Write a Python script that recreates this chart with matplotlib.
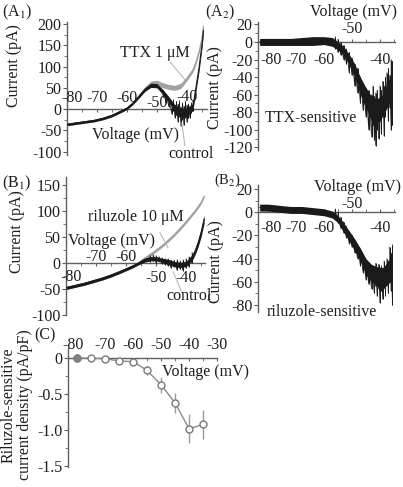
import numpy as np
import matplotlib
matplotlib.use('Agg')
import matplotlib.pyplot as plt

plt.rcParams['font.family'] = ['Liberation Serif', 'DejaVu Serif']
plt.rcParams['mathtext.fontset'] = 'stix'
plt.rcParams['font.size'] = 11

W, H = 403, 487
TXT = '#1e1e1e'
AXC = '#606060'
GRAY = '#a2a2a2'
BLACK = '#1a1a1a'
FS = 11.5

# ---- (A1) whole-cell ramp currents, control vs TTX 1 uM
a1_v = [-80, -77, -74, -71, -68, -65, -62, -60, -58, -56, -54, -52, -50,
        -48, -46, -44, -42, -40, -38, -37, -36, -35, -34.5]
a1_ctrl = [-36, -33, -30, -27, -22, -15, -5, 2, 14, 30, 46, 56, 55,
           40, 22, 2, -8, -8, 5, 50, 95, 150, 185]
a1_ctrl_hw = [3, 3, 3, 3, 3, 3, 3, 3, 3, 4, 4, 5, 5,
              6, 7, 8, 10, 10, 8, 8, 8, 8, 8]
a1_ttx = [-36, -33, -30, -27, -22, -15, -5, 2, 14, 31, 48, 60, 62,
          56, 52, 50, 55, 72, 92, 110, 135, 165, 195]
a1_ttx_hw = [3, 3, 3, 3, 3, 3, 3, 3, 3, 4, 5, 6, 6,
             6, 6, 6, 6, 5, 5, 5, 5, 5, 5]
# noise excursions of the control trace
a1_sv = [-48, -47, -46, -45, -44.5, -44, -43.5, -43, -42.5, -42, -41.5,
         -41, -40.5, -40, -39.5, -39, -38.5, -38]
a1_slo = [28, 15, 5, -12, -5, -20, -15, -30, -18, -40, -25, -38, -20,
          -30, -22, -20, -10, -5]
a1_shi = [45, 35, 25, 15, 22, 10, 18, 12, 20, 5, 15, 8, 18, 10, 12, 8, 15, 20]

# ---- (A2) TTX-sensitive current
a2_v = [-83, -80, -76, -72, -68, -64, -60, -57, -55, -53, -51, -49, -47,
        -45, -43, -41, -39, -37, -35.5]
a2_mid = [0, 0, 0, 0, 0, 1, 2, 0, -4, -10, -20, -32, -50,
          -62, -75, -78, -72, -58, -45]
a2_hi = [4, 4, 4, 4, 5, 6, 6, 5, 0, -5, -14, -25, -40,
         -52, -62, -65, -60, -45, -32]
a2_lo = [-4, -4, -4, -4, -4, -4, -3, -5, -9, -15, -26, -40, -60,
         -75, -90, -92, -85, -72, -60]
a2_sv = [-56, -55, -54, -53, -52, -51, -50, -49, -48, -47, -46, -45, -44,
         -43, -42.5, -42, -41.5, -41, -40.5, -40, -39.5, -39, -38.5, -38,
         -37.5, -37, -36.5, -36, -35.5]
a2_slo = [-8, -12, -15, -20, -25, -35, -38, -50, -58, -70, -78, -85, -100,
          -108, -95, -112, -118, -100, -110, -90, -105, -80, -107, -85,
          -70, -90, -75, -100, -95]
a2_shi = [6, 3, 0, -4, -8, -12, -18, -25, -30, -40, -48, -52, -55,
          -60, -50, -62, -58, -55, -65, -50, -55, -45, -50, -40,
          -35, -30, -38, -20, -22]

# ---- (B1) control vs riluzole 10 uM
b1_v = [-80, -77, -74, -71, -68, -65, -62, -60, -58, -56, -54, -52, -50,
        -48, -46, -44, -42, -40, -38, -37, -36, -35, -34]
b1_ctrl = [-48, -44, -40, -35, -30, -24, -17, -12, -7, -1, 5, 8, 8,
           5, 2, -2, -4, -2, 10, 22, 38, 58, 84]
b1_ctrl_hw = [3, 3, 3, 3, 3, 3, 3, 3, 3, 3, 4, 4, 4,
              4, 5, 5, 5, 5, 6, 6, 7, 8, 8]
b1_ril = [-48, -44, -40, -35, -30, -24, -17, -12, -7, -1, 8, 16, 24,
          33, 43, 54, 66, 79, 93, 100, 108, 116, 128]
b1_ril_hw = [3] * 23
b1_sv = [-52, -51, -50, -49, -48, -47, -46, -45, -44, -43, -42, -41, -40,
         -39, -38]
b1_slo = [2, 4, 0, 3, -2, -4, -6, -10, -8, -14, -12, -15, -10, -8, 0]
b1_shi = [14, 16, 14, 12, 10, 8, 8, 6, 5, 6, 4, 6, 8, 12, 20]

# ---- (B2) riluzole-sensitive current
b2_v = [-83, -80, -76, -72, -68, -64, -60, -57, -55, -53, -51, -49, -47,
        -45, -43, -41, -39, -37, -35.5]
b2_mid = [4, 4, 3, 2, 2, 1, 0, -2, -6, -13, -20, -28, -36,
          -46, -52, -55, -57, -52, -45]
b2_hi = [7, 7, 6, 5, 5, 4, 3, 1, -3, -9, -16, -23, -31,
         -40, -45, -47, -48, -42, -35]
b2_lo = [1, 1, 0, -1, -1, -2, -3, -5, -9, -17, -25, -33, -42,
         -54, -60, -63, -66, -62, -57]
b2_sv = [-56, -55, -54, -53, -52, -51, -50, -49, -48, -47, -46, -45, -44,
         -43, -42, -41.5, -41, -40.5, -40, -39.5, -39, -38.5, -38, -37.5,
         -37, -36.5, -36, -35.5]
b2_slo = [-6, -9, -14, -18, -22, -27, -30, -35, -40, -46, -52, -58, -62,
          -66, -70, -64, -72, -66, -78, -68, -75, -65, -72, -62,
          -70, -60, -68, -80]
b2_shi = [3, 0, -4, -8, -12, -17, -20, -25, -30, -35, -38, -42, -44,
          -46, -48, -44, -50, -45, -52, -46, -48, -42, -50, -40,
          -42, -30, -35, -28]

# ---- (C) riluzole-sensitive current density
c_v = [-80, -75, -70, -65, -60, -55, -50, -45, -40, -35]
c_mean = [0, 0, -0.01, -0.04, -0.05, -0.17, -0.37, -0.62, -0.98, -0.92]
c_err = [0, 0, 0.02, 0.03, 0.03, 0.06, 0.11, 0.14, 0.2, 0.2]


def add_ax(l, t, r, b):
    return fig.add_axes([l / W, 1 - b / H, (r - l) / W, (b - t) / H])


def ftext(x, y, s, **kw):
    fig.text(x / W, 1 - y / H, s, color=TXT, **kw)


def style(ax, xlim, ylim, yticks, ylabels, yminor, xdir='out'):
    ax.set_xlim(xlim)
    ax.set_ylim(ylim)
    for s in ['top', 'right']:
        ax.spines[s].set_visible(False)
    ax.spines['bottom'].set_position(('data', 0))
    ax.spines['bottom'].set_zorder(1)
    for s in ['left', 'bottom']:
        ax.spines[s].set_color(AXC)
        ax.spines[s].set_linewidth(1.0)
    ax.set_yticks(yticks)
    ax.set_yticklabels(ylabels)
    ax.set_yticks(yminor, minor=True)
    ax.tick_params(axis='y', which='both', direction='out', color=AXC,
                   labelcolor=TXT, pad=1, length=3, labelsize=FS)
    ax.tick_params(axis='y', which='minor', length=2)
    ax.set_xticks(np.arange(-80, xlim[1], 10))
    ax.set_xticks(np.arange(-75, xlim[1], 10), minor=True)
    ax.tick_params(axis='x', which='both', direction=xdir, color=AXC,
                   labelbottom=False, length=2.5)
    ax.patch.set_alpha(0)


def xlabels(ax, ticks, offsets, dx0=0):
    # tick labels sit just above or below the zero line; the first one is
    # nudged off the y axis
    for i, (v, dy) in enumerate(zip(ticks, offsets)):
        dx = dx0 if i == 0 else 0
        ax.annotate(str(v), (v, 0), xytext=(dx, dy), textcoords='offset points',
                    ha='center', va='center', color=TXT, fontsize=FS)


def band(ax, v, lo, hi, mid, color, lw=0.8):
    ax.fill_between(v, lo, hi, color=color, lw=0, zorder=3)
    ax.plot(v, mid, color=color, lw=lw, zorder=3)


def spikes(ax, v, lo, hi, color=BLACK):
    ax.vlines(v, lo, hi, color=color, lw=0.7, zorder=3)
    ax.plot(np.repeat(v, 2), np.column_stack([lo, hi]).ravel(),
            color=color, lw=0.5, zorder=3)


fig = plt.figure(figsize=(W / 100, H / 100), dpi=100)

# ------------------------------------------------ A1
ax = add_ax(67, 22, 207, 155)
style(ax, (-80, -33.3), (-108, 205), [-100, -50, 0, 50, 100, 150, 200],
      ['-100', '-50', '0', '50', '100', '150', '200'], np.arange(-75, 200, 50))
lo = np.subtract(a1_ttx, a1_ttx_hw); hi = np.add(a1_ttx, a1_ttx_hw)
band(ax, a1_v, lo, hi, a1_ttx, GRAY)
lo = np.subtract(a1_ctrl, a1_ctrl_hw); hi = np.add(a1_ctrl, a1_ctrl_hw)
band(ax, a1_v, lo, hi, a1_ctrl, BLACK)
spikes(ax, a1_sv, a1_slo, a1_shi)
xlabels(ax, [-80, -70, -60, -50, -40], [8, 8, 8, 4.5, 9], dx0=4)
ax.plot([-45.5, -40.5], [110, 68], color='#b8b8b8', lw=0.8, zorder=4)
ax.plot([-40.7, -41.7], [-85, -33], color='#b8b8b8', lw=0.8, zorder=4)
ftext(2, 12, r'(A$_1$)', ha='left', va='center', fontsize=FS)
ftext(14, 66, 'Current (pA)', rotation=90, ha='center', va='center', fontsize=FS)
ftext(155, 53, 'TTX 1 μM', ha='center', va='center', fontsize=FS)
ftext(136, 135, 'Voltage (mV)', ha='center', va='center', fontsize=FS)
ftext(191, 154, 'control', ha='center', va='center', fontsize=FS)

# ------------------------------------------------ A2
ax = add_ax(258, 22, 395, 150)
style(ax, (-83.6, -34.6), (-123, 22.7), np.arange(-120, 21, 20),
      [str(t) for t in range(-120, 21, 20)], np.arange(-110, 20, 20), 'in')
band(ax, a2_v, a2_lo, a2_hi, a2_mid, BLACK, lw=0.6)
spikes(ax, a2_sv, a2_slo, a2_shi)
xlabels(ax, [-80, -70, -60, -50, -40], [-13, -13, -13, 9, -13], dx0=2)
ftext(205, 12, r'(A$_2$)', ha='left', va='center', fontsize=FS)
ftext(215, 88, 'Current (pA)', rotation=90, ha='center', va='center', fontsize=FS)
ftext(354, 12, 'Voltage (mV)', ha='center', va='center', fontsize=FS)
ftext(311, 118, 'TTX-sensitive', ha='center', va='center', fontsize=FS)

# ------------------------------------------------ B1
ax = add_ax(66, 177, 205, 315)
style(ax, (-80, -33.7), (-100, 165), [-100, -50, 0, 50, 100, 150],
      ['-100', '-50', '0', '50', '100', '150'], np.arange(-75, 160, 50))
lo = np.subtract(b1_ril, b1_ril_hw); hi = np.add(b1_ril, b1_ril_hw)
band(ax, b1_v, lo, hi, b1_ril, GRAY)
lo = np.subtract(b1_ctrl, b1_ctrl_hw); hi = np.add(b1_ctrl, b1_ctrl_hw)
band(ax, b1_v, lo, hi, b1_ctrl, BLACK)
spikes(ax, b1_sv, b1_slo, b1_shi)
xlabels(ax, [-80, -70, -60, -50, -40], [-10, 4.5, 4.5, -11, -11], dx0=4)
ax.plot([-48.7, -46], [58, 29], color='#b8b8b8', lw=0.8, zorder=4)
ax.plot([-44.3, -41.3], [-17, -58], color='#b8b8b8', lw=0.8, zorder=4)
ftext(2, 183, r'(B$_1$)', ha='left', va='center', fontsize=FS)
ftext(17, 232, 'Current (pA)', rotation=90, ha='center', va='center', fontsize=FS)
ftext(136, 217, 'riluzole 10 μM', ha='center', va='center', fontsize=FS)
ftext(112, 241, 'Voltage (mV)', ha='center', va='center', fontsize=FS)
ftext(189, 296, 'control', ha='center', va='center', fontsize=FS)

# ------------------------------------------------ B2
ax = add_ax(258, 185, 395, 312)
style(ax, (-83.6, -34.6), (-86, 23.5), np.arange(-80, 21, 20),
      [str(t) for t in range(-80, 21, 20)], np.arange(-70, 20, 20), 'in')
band(ax, b2_v, b2_lo, b2_hi, b2_mid, BLACK, lw=0.6)
spikes(ax, b2_sv, b2_slo, b2_shi)
xlabels(ax, [-80, -70, -60, -50, -40], [-11, -11, -11, 6, -11], dx0=2)
ftext(214, 180, r'(B$_2$)', ha='left', va='center', fontsize=10.5)
ftext(216, 262, 'Current (pA)', rotation=90, ha='center', va='center', fontsize=FS)
ftext(358, 187, 'Voltage (mV)', ha='center', va='center', fontsize=FS)
ftext(322, 312, 'riluzole-sensitive', ha='center', va='center', fontsize=FS)

# ------------------------------------------------ C
ax = add_ax(68, 348, 217, 467)
style(ax, (-83.25, -30), (-1.51, 0.14), [-1.5, -1.0, -0.5, 0],
      ['-1.5', '-1.0', '-0.5', '0'], [-1.25, -0.75, -0.25])
ax.set_xticks(np.arange(-80, -29, 10))
ax.set_xticks(np.arange(-75, -29, 10), minor=True)
ax.errorbar(c_v, c_mean, yerr=c_err, color='#8c8c8c', ecolor='#9a9a9a',
            lw=1.0, elinewidth=1.0, capsize=0, marker='o', ms=5,
            mfc='white', mec='#7a7a7a', mew=1.0, zorder=4)
ax.plot(c_v[0], c_mean[0], 'o', ms=5, color='#808080', zorder=5)
xlabels(ax, [-80, -70, -60, -50, -40, -30], [9.5] * 6, dx0=-3)
ftext(45, 335, '(C)', ha='center', va='center', fontsize=FS)
ftext(205, 372, 'Voltage (mV)', ha='center', va='center', fontsize=FS)
ftext(17, 405, 'Riluzole-sensitive\ncurrent density (pA/pF)', rotation=90,
      ha='center', va='center', fontsize=FS, linespacing=1.0)

fig.savefig('out.png', dpi=100)
